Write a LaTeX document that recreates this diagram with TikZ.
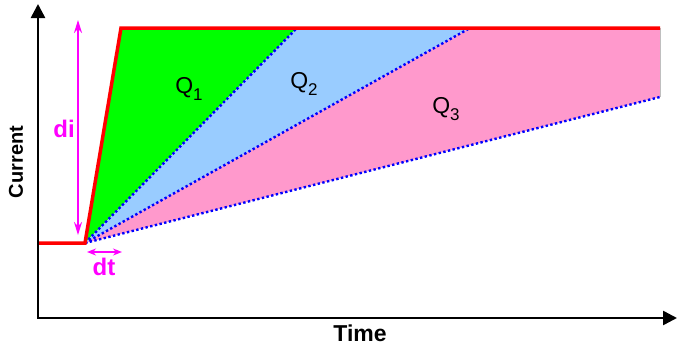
\documentclass[tikz,border=0pt]{standalone}
\usepackage{fontspec}
\setmainfont{Liberation Sans}
\usetikzlibrary{arrows.meta}
\definecolor{qgreen}{RGB}{0,255,0}
\definecolor{qblue}{RGB}{153,204,255}
\definecolor{qpink}{RGB}{255,153,204}
\definecolor{qred}{RGB}{255,0,0}
\definecolor{qmag}{RGB}{255,0,255}
\definecolor{qdot}{RGB}{0,0,255}
\newcommand{\qsub}[1]{\raisebox{-0.32em}{\fontsize{17}{19}\selectfont #1}}
\begin{document}
\begin{tikzpicture}[x=1pt,y=-1pt,
  axis/.style={line width=2.5pt,{Triangle[length=14pt,width=14pt]}-{Triangle[length=14pt,width=14pt]}},
  curve/.style={qred,line width=3.5pt,line join=miter},
  guide/.style={qdot,line width=2.4pt,dash pattern=on 2.4pt off 2.4pt},
  magarrow/.style={qmag,line width=2pt},
  maglabel/.style={text=qmag,font=\fontsize{24}{28}\selectfont\bfseries,inner sep=0pt},
  axislabel/.style={font=\fontsize{20}{24}\selectfont\bfseries,inner sep=0pt},
  qlabel/.style={font=\fontsize{23}{27}\selectfont,inner sep=0pt}]
\useasboundingbox (0,0) rectangle (677,348);
\coordinate (O) at (38,318);
\coordinate (ytop) at (38,4);
\coordinate (xend) at (677,318);
\coordinate (A) at (38,243);
\coordinate (B) at (85,243);
\coordinate (C) at (121,28);
\coordinate (D) at (297,28);
\coordinate (E) at (470,28);
\coordinate (F) at (660,28);
\coordinate (G) at (660,97);
\coordinate (diT) at (78,20);
\coordinate (diB) at (78,235);
\coordinate (dtL) at (87,252);
\coordinate (dtR) at (122,252);
% regions
\fill[qgreen] (B) -- (C) -- (D) -- cycle;
\fill[qblue] (B) -- (D) -- (E) -- cycle;
\fill[qpink] (B) -- (E) -- (F) -- (G) -- cycle;
\draw[black!25,line width=0.6pt] (F) -- (G);
% dotted guides
\draw[guide] (B) -- (D);
\draw[guide] (B) -- (E);
\draw[guide] (B) -- (G);
% current curve
\draw[curve] (A) -- (B) -- (C) -- (F);
% axes
\draw[axis] (ytop) -- (O) -- (xend);
% di, dt arrows
\draw[magarrow,{Stealth[length=13pt,width=8pt]}-{Stealth[length=13pt,width=8pt]}] (diT) -- (diB);
\draw[magarrow,{Stealth[length=9pt,width=7pt]}-{Stealth[length=9pt,width=7pt]}] (dtL) -- (dtR);
% labels
\node[maglabel] (di) at (64,129) {di};
\node[maglabel] (dt) at (104,267) {dt};
\node[axislabel,font=\fontsize{23}{27}\selectfont\bfseries] (time) at (360,333) {Time};
\node[axislabel,rotate=90] (cur) at (16,162) {Current};
\node[qlabel] (q1) at (189,89) {Q\qsub{1}};
\node[qlabel] (q2) at (304,84) {Q\qsub{2}};
\node[qlabel] (q3) at (446,109) {Q\qsub{3}};
\end{tikzpicture}
\end{document}
